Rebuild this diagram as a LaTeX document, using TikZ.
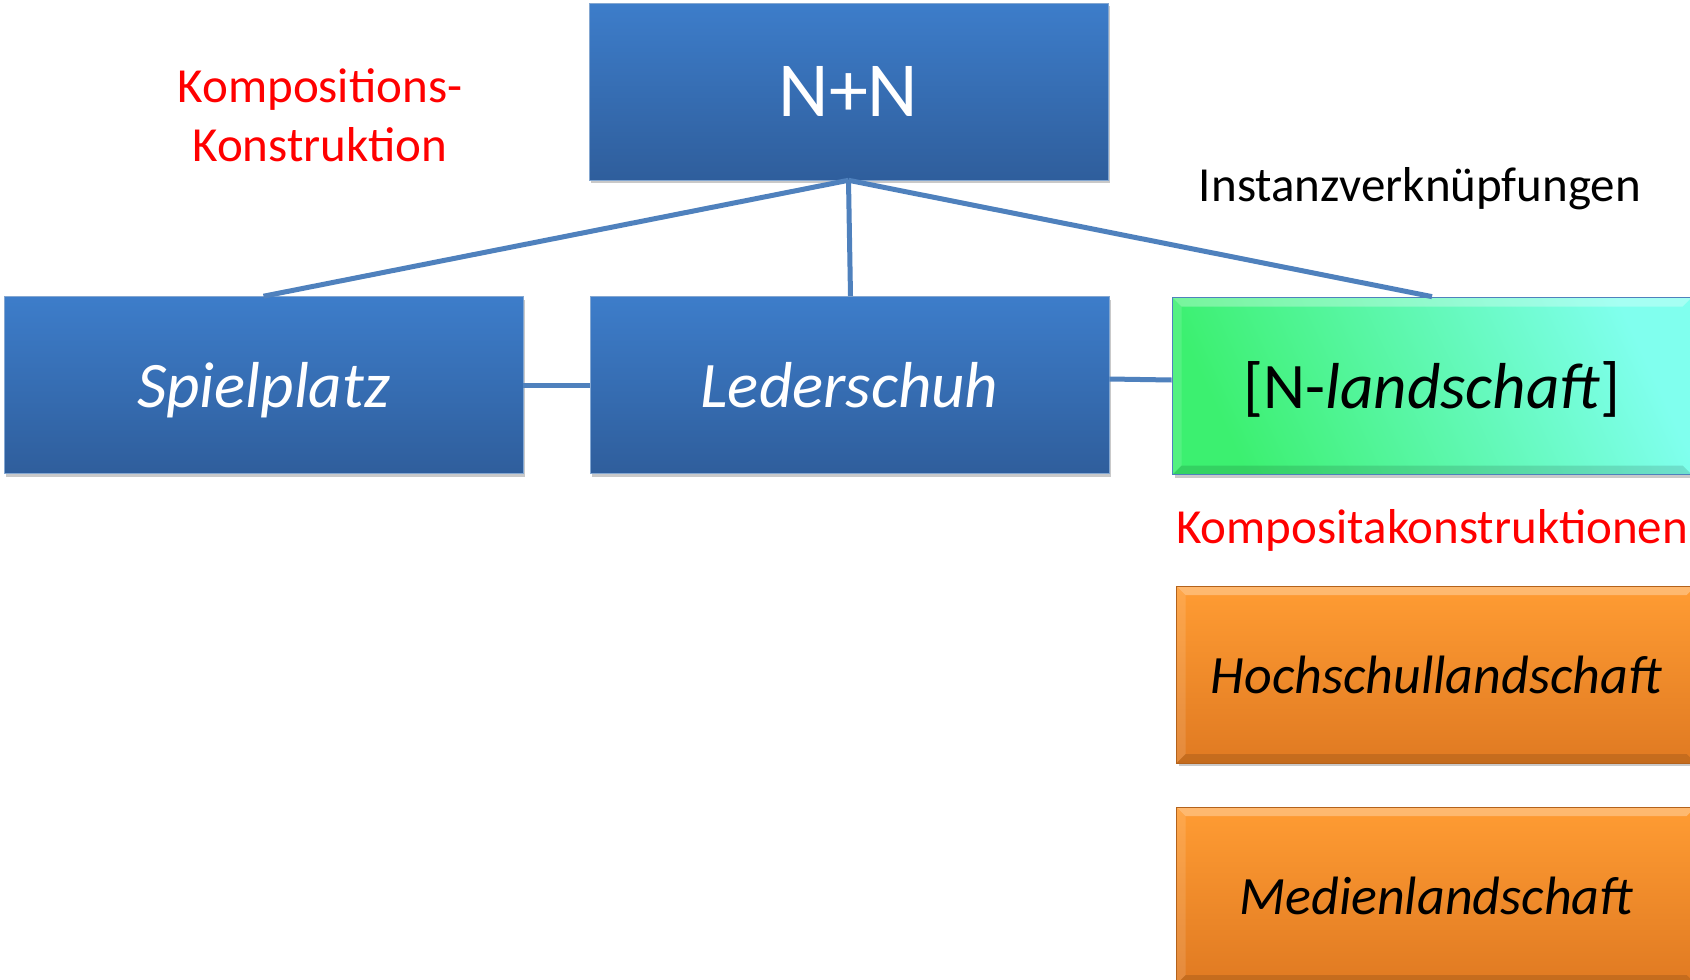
\documentclass[tikz,border=0pt]{standalone}
\usepackage{fontspec}
\setmainfont{Carlito}
\usetikzlibrary{shadows}
\definecolor{bluetop}{HTML}{3D7DCA}
\definecolor{bluebot}{HTML}{2F5E9C}
\definecolor{linec}{HTML}{4F81BD}
\definecolor{orgtop}{HTML}{FF9C33}
\definecolor{orgbot}{HTML}{E07A22}
\definecolor{grnL}{HTML}{3CF070}
\definecolor{grnM}{HTML}{08FA82}
\definecolor{grnR}{HTML}{80FFEE}
\definecolor{redtxt}{HTML}{FF0000}
\tikzset{
  box/.style={minimum width=519pt, minimum height=177pt, inner sep=0pt,
    drop shadow={shadow xshift=2pt, shadow yshift=-3pt, opacity=0.35, fill=black!60}},
  bevel/.style={path picture={
    \fill[white,opacity=0.3] (path picture bounding box.north west) -- (path picture bounding box.north east)
      -- ([xshift=-9pt,yshift=-9pt]path picture bounding box.north east) -- ([xshift=9pt,yshift=-9pt]path picture bounding box.north west) -- cycle;
    \fill[white,opacity=0.12] (path picture bounding box.north west) -- ([xshift=9pt,yshift=-9pt]path picture bounding box.north west)
      -- ([xshift=9pt,yshift=9pt]path picture bounding box.south west) -- (path picture bounding box.south west) -- cycle;
    \fill[black,opacity=0.12] (path picture bounding box.south west) -- (path picture bounding box.south east)
      -- ([xshift=-9pt,yshift=9pt]path picture bounding box.south east) -- ([xshift=9pt,yshift=9pt]path picture bounding box.south west) -- cycle;
  }},
  bluebox/.style={box, top color=bluetop, bottom color=bluebot, draw=linec!70, line width=0.6pt,
    text=white, text height=45pt, text depth=0pt, font=\fontsize{65}{78}\selectfont\itshape},
  greenbox/.style={box, shading=axis, left color=grnL, middle color=grnM, right color=grnR,
    shading angle=115, draw=linec, line width=1.8pt, bevel,
    text height=45pt, text depth=0pt, font=\fontsize{65}{78}\selectfont},
  orangebox/.style={box, top color=orgtop, bottom color=orgbot, draw=orgbot!80!black, line width=0.6pt,
    bevel, text height=38pt, text depth=0pt, font=\fontsize{54}{64}\selectfont\itshape},
  conn/.style={draw=linec, line width=5pt},
  lbl/.style={inner sep=0pt, font=\fontsize{49}{59}\selectfont, align=center},
}
\begin{document}
\begin{tikzpicture}[x=1pt,y=-1pt]
\useasboundingbox (0,0) rectangle (1690,980);
\fill[white] (0,0) rectangle (1690,980);
\node[bluebox, text height=50pt, font=\fontsize{78}{90}\selectfont] (nn) at (848.5,91.5) {N+N};
\node[bluebox] (sp) at (263.5,385) {Spielplatz};
\node[bluebox] (le) at (849.5,385) {Lederschuh};
\node[greenbox] (gr) at (1432,386) {[N-\textit{landschaft}]};
\node[orangebox] (ho) at (1436,674.5) {Hochschullandschaft};
\node[orangebox] (me) at (1436,895.5) {Medienlandschaft};
\node[lbl, text=redtxt] (kk) at (320,115) {Kompositions-\\Konstruktion};
\node[lbl] (iv) at (1420,189) {Instanzverknüpfungen};
\node[lbl, text=redtxt, anchor=west] (kp) at (1176,530) {Kompositakonstruktionen};
\draw[conn] (nn.south) -- (sp.north);
\draw[conn] (nn.south) -- ([xshift=1pt]le.north);
\draw[conn] (nn.south) -- (gr.north);
\draw[conn] (sp.east) -- (le.west);
\draw[conn] ([yshift=6pt]le.east) -- ([yshift=6pt]gr.west);
\end{tikzpicture}
\end{document}
